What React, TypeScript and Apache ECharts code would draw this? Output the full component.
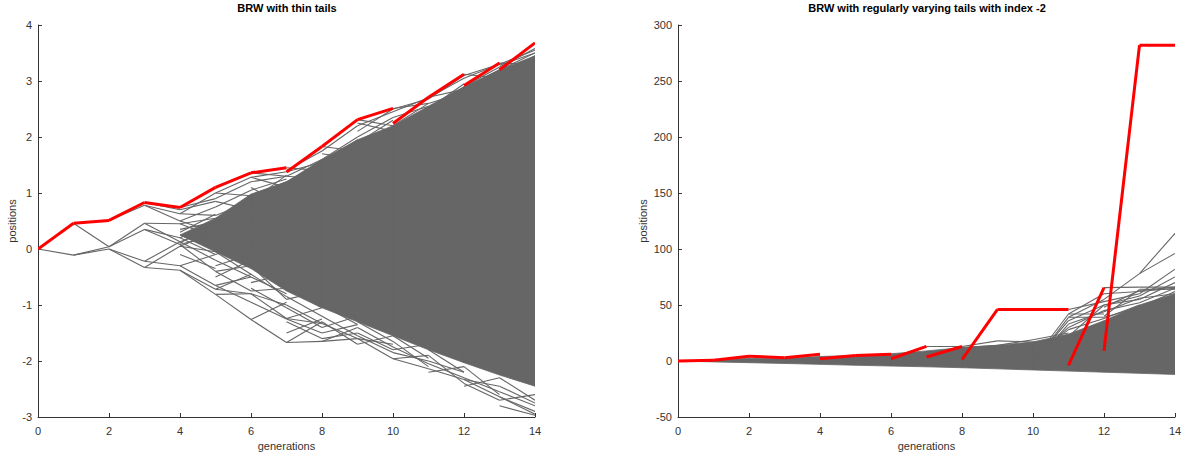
import React, { useEffect, useRef } from "react";
import * as echarts from "echarts";

// ---------- data ----------
const generations = [0, 1, 2, 3, 4, 5, 6, 7, 8, 9, 10, 11, 12, 13, 14];

const leftTitle = "BRW with thin tails";
const rightTitle = "BRW with regularly varying tails with index -2";

// red (maximal) path, value at start / end of each generation step
const leftMaxFrom = [0, 0.46, 0.51, 0.83, 0.74, 1.1, 1.36, 1.375, 1.83, 2.31, 2.24, 2.71, 2.92, 3.2];
const leftMaxTo = [0.46, 0.51, 0.83, 0.74, 1.1, 1.36, 1.45, 1.83, 2.31, 2.51, 2.71, 3.12, 3.32, 3.68];

// dense core of the grey particle cloud (null = no dense core)
const leftCoreLow = [null, null, null, null, 0.25, -0.05, -0.35, -0.75, -1.05, -1.3, -1.55, -1.8, -2.03, -2.25, -2.45];
const leftCoreHigh = [null, null, null, null, 0.25, 0.55, 0.98, 1.2, 1.6, 1.95, 2.2, 2.55, 2.9, 3.2, 3.45];

// visible individual branches: [generation, from, to]
const leftBranches = [
  [0, 0, -0.11],
  [1, 0.46, 0.04], [1, -0.11, 0.04], [1, -0.11, 0.0],
  [2, 0.51, 0.78], [2, 0.04, 0.46], [2, 0.04, 0.35], [2, 0.0, -0.22], [2, 0.0, -0.33],
  [3, 0.78, 0.63], [3, 0.78, 0.5], [3, 0.83, 0.7], [3, 0.46, 0.45], [3, 0.46, 0.13], [3, 0.35, 0.2],
  [3, 0.35, 0.08], [3, -0.22, 0.13], [3, -0.22, -0.3], [3, -0.33, -0.38], [3, -0.33, 0.05],
  [4, 0.74, 0.9], [4, 0.63, 1.0], [4, 0.63, 0.6], [4, 0.7, 0.85], [4, 0.5, 0.75], [4, 0.5, 0.3],
  [4, 0.45, 0.55], [4, 0.45, 0.2], [4, 0.2, 0.45], [4, 0.2, -0.1], [4, 0.13, 0.35], [4, 0.13, -0.2],
  [4, 0.08, 0.25], [4, 0.08, -0.4], [4, 0.05, -0.05], [4, 0.05, 0.3], [4, -0.3, -0.65], [4, -0.3, -0.1],
  [4, -0.38, -0.81], [4, -0.38, -0.72], [4, 0.3, 0.62], [4, 0.25, 0.0], [4, 0.35, 0.48], [4, -0.1, -0.35],
  [4, 0.1, 0.5],
  [5, 1.0, 1.28], [5, 1.0, 0.95], [5, 0.9, 1.2], [5, 0.85, 0.7], [5, 0.75, 1.05], [5, 0.6, 0.85],
  [5, 0.55, 0.3], [5, -0.05, -0.45], [5, -0.1, 0.1], [5, -0.2, -0.5], [5, -0.4, -0.75], [5, -0.4, -0.3],
  [5, -0.65, -0.5], [5, -0.65, -0.95], [5, -0.72, -0.8], [5, -0.72, -0.45], [5, -0.81, -1.26], [5, -0.81, -0.8],
  [5, 0.3, 0.65], [5, 0.3, -0.05], [5, 0.45, 0.9], [5, 0.2, 0.75], [5, 0.1, -0.3], [5, 0.0, 0.4],
  [5, -0.3, -0.1], [5, -0.5, -0.2],
  [6, 1.36, 1.3], [6, 1.28, 1.38], [6, 1.28, 1.1], [6, 1.2, 1.3], [6, 1.05, 1.25], [6, 0.95, 1.2],
  [6, -0.45, -0.85], [6, -0.5, -0.8], [6, -0.75, -0.7], [6, -0.8, -1.0], [6, -0.8, -1.24], [6, -0.95, -1.25],
  [6, -1.26, -1.67], [6, -1.26, -0.95], [6, 0.9, 1.1], [6, 0.7, 1.0], [6, 0.6, 0.2], [6, 0.3, -0.35],
  [6, 0.1, -0.5], [6, -0.2, -0.65], [6, -0.3, -0.9], [6, -0.6, -0.45], [6, -0.7, -1.05], [6, 1.1, 0.75],
  [6, 0.85, 1.32],
  [7, 1.45, 1.4], [7, 1.38, 1.55], [7, 1.3, 1.6], [7, 1.4, 1.75], [7, -0.85, -1.2], [7, -1.0, -1.33],
  [7, -1.24, -1.33], [7, -1.24, -1.05], [7, -1.25, -1.5], [7, -1.67, -1.65], [7, -1.67, -1.3],
  [7, 1.2, 1.5], [7, 1.3, 1.25], [7, 1.1, 1.6], [7, -0.7, -1.05], [7, -0.9, -0.75], [7, -1.05, -1.4],
  [7, -1.5, -1.25], [7, -1.3, -1.6],
  [8, 1.83, 1.75], [8, 1.75, 2.2], [8, 1.6, 2.0], [8, 1.55, 1.9], [8, -1.2, -1.55], [8, -1.33, -1.6],
  [8, -1.5, -1.35], [8, -1.65, -1.6], [8, -1.65, -1.4], [8, 1.5, 1.95], [8, 1.7, 1.6], [8, 1.45, 1.8],
  [8, -1.0, -1.35], [8, -1.4, -1.2], [8, -1.3, -1.7], [8, -1.6, -1.5],
  [9, 2.31, 2.2], [9, 2.2, 2.45], [9, 2.0, 2.35], [9, -1.55, -1.85], [9, -1.6, -1.96], [9, -1.6, -1.7],
  [9, -1.4, -1.75], [9, 2.1, 2.5], [9, 1.9, 2.3], [9, 2.25, 2.1], [9, -1.3, -1.65], [9, -1.5, -1.8],
  [9, -1.7, -1.55],
  [10, 2.51, 2.6], [10, 2.45, 2.7], [10, 2.35, 2.55], [10, -1.85, -2.0], [10, -1.96, -2.14], [10, -1.96, -1.9],
  [10, -1.75, -2.05], [10, 2.5, 2.68], [10, 2.2, 2.6], [10, -1.55, -1.95], [10, -1.8, -1.7], [10, -1.65, -2.1],
  [11, 2.71, 2.85], [11, 2.7, 3.05], [11, 2.6, 2.8], [11, -2.14, -2.33], [11, -2.05, -2.3], [11, -2.0, -2.2],
  [11, 2.68, 3.1], [11, 2.5, 2.95], [11, -1.8, -2.2], [11, -2.2, -2.1], [11, -1.9, -2.4],
  [12, 3.12, 3.05], [12, 3.05, 3.3], [12, 2.85, 3.2], [12, -2.33, -2.64], [12, -2.33, -2.45], [12, -2.3, -2.55],
  [12, 3.1, 3.3], [12, 2.9, 3.25], [12, -2.1, -2.6], [12, -2.45, -2.3], [12, -2.4, -2.7],
  [13, 3.32, 3.3], [13, 3.3, 3.55], [13, 3.2, 3.5], [13, 3.05, 3.45], [13, -2.64, -2.95], [13, -2.64, -2.9],
  [13, -2.55, -2.8], [13, -2.45, -2.75], [13, 3.28, 3.5], [13, 3.25, 3.58], [13, -2.3, -2.7],
  [13, -2.7, -2.6], [13, -2.8, -2.97],
];

const rightMaxFrom = [0, 0.6, 4.2, 3, 2, 5, 2, 3.6, 1.2, 46, 46, -3.8, 9, 282];
const rightMaxTo = [0.6, 4.2, 3, 6, 5, 6, 13, 13, 46, 46, 46, 65.5, 282, 282];

const rightCoreLow = [0, -0.8, -1.5, -2.2, -3, -3.8, -4.5, -5.2, -6, -7, -8, -9, -10, -11, -12];
const rightCoreHigh = [0, 0.6, 2.5, 2.5, 4, 5, 6.5, 9, 12, 14, 17, 24, 36, 50, 60];

const rightBranches = [
  [7, 13, 13], [8, 13, 18], [9, 18, 17], [10, 17, 20], [8, 12, 14], [9, 14, 19], [10, 19, 25],
  [10, -2, 39], [10, -1, 36], [10, 2, 30], [10, 0, 42], [10, -3, 33], [10, 4, 28],
  [11, 39, 39], [11, 39, 55], [11, 36, 50], [11, 30, 45], [11, 46, 53], [11, 42, 42], [11, 42, 60],
  [11, 33, 44], [11, 28, 38], [11, 22, 50], [11, 20, 35],
  [12, 65.5, 66], [12, 55, 78], [12, 53, 60], [12, 50, 58], [12, 45, 52], [12, 39, 48], [12, 60, 62],
  [12, 44, 56], [12, 38, 50], [12, 35, 46], [12, 50, 55], [12, 48, 63], [12, 40, 64],
  [13, 66, 66], [13, 78, 114], [13, 78, 96], [13, 60, 82], [13, 58, 75], [13, 52, 65], [13, 48, 62],
  [13, 40, 58], [13, 62, 65], [13, 56, 60], [13, 55, 70], [13, 63, 66], [13, 64, 64],
];

// ---------- styling ----------
const GREY = "#666666";
const RED = "#ff0000";
const AXIS = "#333333";
const FONT = "Liberation Sans, Arial, Helvetica, sans-serif";

function bandData(low: (number | null)[], high: (number | null)[]) {
  const out: number[][] = [];
  for (let i = 0; i < generations.length - 1; i++) {
    if (low[i] == null || low[i + 1] == null) continue;
    out.push([generations[i], generations[i + 1], low[i] as number, high[i] as number, low[i + 1] as number, high[i + 1] as number]);
  }
  return out;
}

function maxData(from: number[], to: number[]) {
  return from.map((v, i) => [generations[i], generations[i + 1], v, to[i]]);
}

function branchData(list: number[][]) {
  return list.map(([g, a, b]) => [g, g + 1, a, b]);
}

const renderBand = (_p: any, api: any) => {
  const g0 = api.value(0), g1 = api.value(1);
  const pts = [
    api.coord([g0, api.value(2)]),
    api.coord([g0, api.value(3)]),
    api.coord([g1, api.value(5)]),
    api.coord([g1, api.value(4)]),
  ];
  return {
    type: "polygon",
    shape: { points: pts },
    style: { fill: GREY, stroke: GREY, lineWidth: 0.8 },
  };
};

const renderSeg = (color: string, width: number) => (_p: any, api: any) => {
  const a = api.coord([api.value(0), api.value(2)]);
  const b = api.coord([api.value(1), api.value(3)]);
  return {
    type: "line",
    shape: { x1: a[0], y1: a[1], x2: b[0], y2: b[1] },
    style: { stroke: color, lineWidth: width, lineCap: "butt", fill: null },
  };
};

function xAxisCfg(gridIndex: number) {
  return {
    gridIndex,
    type: "value",
    min: 0,
    max: 14,
    interval: 2,
    name: "generations",
    nameLocation: "middle",
    nameGap: 19,
    nameTextStyle: { color: AXIS, fontSize: 11, fontFamily: FONT },
    axisLine: { show: true, onZero: false, lineStyle: { color: AXIS, width: 1 } },
    axisTick: { show: true, inside: true, length: 4, lineStyle: { color: AXIS } },
    axisLabel: { color: AXIS, fontSize: 11, fontFamily: FONT, margin: 8 },
    splitLine: { show: false },
  };
}

function yAxisCfg(gridIndex: number, min: number, max: number, interval: number) {
  return {
    gridIndex,
    type: "value",
    min,
    max,
    interval,
    name: "positions",
    nameLocation: "middle",
    nameGap: gridIndex === 0 ? 21 : 30,
    nameTextStyle: { color: AXIS, fontSize: 11, fontFamily: FONT },
    axisLine: { show: true, onZero: false, lineStyle: { color: AXIS, width: 1 } },
    axisTick: { show: true, inside: true, length: 4, lineStyle: { color: AXIS } },
    axisLabel: { color: AXIS, fontSize: 11, fontFamily: FONT, margin: 6 },
    splitLine: { show: false },
  };
}

function customSeries(idx: number, data: number[][], render: any, color: string) {
  return {
    type: "custom",
    xAxisIndex: idx,
    yAxisIndex: idx,
    renderItem: render,
    encode: { x: [0, 1], y: [2, 3] },
    itemStyle: { color },
    data,
    silent: true,
    clip: true,
  };
}

export default function App() {
  const ref = useRef<HTMLDivElement>(null);
  useEffect(() => {
    if (!ref.current) return;
    const chart = echarts.init(ref.current, undefined, { renderer: "svg" });
    chart.setOption({
      animation: false,
      backgroundColor: "#ffffff",
      textStyle: { fontFamily: FONT },
      grid: [
        { left: 38, top: 25, width: 497, height: 392 },
        { left: 678, top: 25, width: 497, height: 392 },
      ],
      graphic: [
        {
          type: "text",
          x: 287,
          y: 8,
          style: { text: leftTitle, fill: "#000", font: `bold 11px ${FONT}`, textAlign: "center", textVerticalAlign: "middle" },
        },
        {
          type: "text",
          x: 927,
          y: 8,
          style: { text: rightTitle, fill: "#000", font: `bold 11px ${FONT}`, textAlign: "center", textVerticalAlign: "middle" },
        },
      ],
      xAxis: [xAxisCfg(0), xAxisCfg(1)],
      yAxis: [yAxisCfg(0, -3, 4, 1), yAxisCfg(1, -50, 300, 50)],
      series: [
        customSeries(0, bandData(leftCoreLow, leftCoreHigh), renderBand, GREY),
        customSeries(0, branchData(leftBranches), renderSeg(GREY, 1.1), GREY),
        customSeries(0, maxData(leftMaxFrom, leftMaxTo), renderSeg(RED, 3), RED),
        customSeries(1, bandData(rightCoreLow, rightCoreHigh), renderBand, GREY),
        customSeries(1, branchData(rightBranches), renderSeg(GREY, 1.1), GREY),
        customSeries(1, maxData(rightMaxFrom, rightMaxTo), renderSeg(RED, 3), RED),
      ],
    });
    return () => chart.dispose();
  }, []);
  return (
    <div
      ref={ref}
      style={{ position: "fixed", left: 0, top: 0, width: 1185, height: 458, background: "#fff" }}
    />
  );
}
